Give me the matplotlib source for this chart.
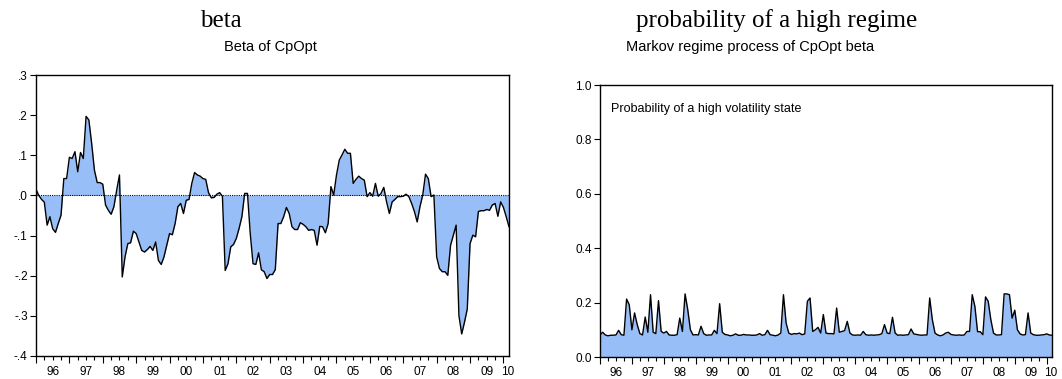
import matplotlib
matplotlib.use("Agg")
import matplotlib.pyplot as plt
import numpy as np

# monthly observations, Jan 1996 .. Mar 2010
beta = [
    .015, .0, -.01, -.017, -.074, -.053, -.083, -.092, -.07, -.049, .042, .042,          # 96
    .095, .092, .109, .059, .107, .092, .197, .188, .13, .063, .032, .032,               # 97
    .028, -.024, -.037, -.047, -.028, .013, .051, -.203, -.153, -.12, -.118, -.089,      # 98
    -.095, -.116, -.137, -.141, -.135, -.127, -.137, -.116, -.162, -.172, -.153, -.124,  # 99
    -.095, -.098, -.07, -.028, -.02, -.045, -.012, -.01, .03, .057, .051, .048,          # 00
    .042, .04, .007, -.006, -.005, .003, .007, -.002, -.187, -.17, -.128, -.122,         # 01
    -.107, -.082, -.053, .005, .005, -.095, -.17, -.172, -.143, -.185, -.19, -.207,      # 02
    -.197, -.197, -.185, -.07, -.07, -.053, -.03, -.045, -.078, -.085, -.085, -.068,     # 03
    -.072, -.078, -.087, -.085, -.087, -.124, -.077, -.078, -.093, -.07, .022, .001,     # 04
    .051, .088, .101, .115, .105, .105, .03, .04, .048, .042, .038, -.003,               # 05
    .007, -.002, .03, -.002, .005, .02, -.016, -.045, -.016, -.01, -.003, -.003,         # 06
    -.002, .003, -.003, -.02, -.04, -.066, -.028, .001, .053, .042, -.003, .001,         # 07
    -.153, -.182, -.19, -.19, -.199, -.124, -.099, -.074, -.299, -.345, -.316, -.283,    # 08
    -.12, -.099, -.103, -.04, -.038, -.038, -.035, -.037, -.024, -.02, -.052, -.016,     # 09
    -.03, -.053, -.078,                                                                  # 10
]

prob_high = [
    .081, .091, .081, .078, .08, .08, .081, .098, .082, .08, .213, .192,
    .10, .162, .119, .086, .081, .147, .091, .229, .091, .086, .207, .094,
    .088, .094, .081, .08, .08, .082, .143, .094, .232, .174, .10, .081,
    .082, .081, .113, .086, .08, .081, .081, .098, .086, .196, .091, .083,
    .081, .078, .08, .085, .08, .08, .083, .081, .081, .08, .08, .081,
    .086, .08, .082, .098, .082, .08, .078, .081, .088, .229, .125, .088,
    .083, .086, .085, .088, .082, .085, .205, .217, .094, .10, .109, .088,
    .156, .088, .086, .086, .085, .18, .091, .094, .097, .131, .088, .081,
    .08, .081, .08, .094, .082, .08, .081, .08, .081, .082, .086, .119,
    .088, .086, .146, .088, .08, .081, .08, .081, .082, .103, .085, .083,
    .081, .08, .081, .081, .217, .137, .088, .081, .078, .081, .088, .091,
    .083, .081, .08, .081, .08, .081, .094, .094, .229, .186, .093, .093,
    .082, .221, .205, .137, .088, .081, .081, .082, .232, .232, .229, .143,
    .172, .10, .085, .081, .082, .162, .088, .082, .08, .08, .081, .082,
    .085, .081, .08,
]

year_labels = ["96", "97", "98", "99", "00", "01", "02", "03", "04", "05",
               "06", "07", "08", "09", "10"]
beta_ticks = [-.4, -.3, -.2, -.1, 0, .1, .2, .3]
beta_ticklabels = ["-.4", "-.3", "-.2", "-.1", ".0", ".1", ".2", ".3"]
prob_ticks = [0, .2, .4, .6, .8, 1.0]
prob_ticklabels = ["0.0", "0.2", "0.4", "0.6", "0.8", "1.0"]

FILL = "#98BEF8"
SANS = "Liberation Sans"
SERIF = "Liberation Serif"
W, H = 1062, 379

plt.rcParams["font.family"] = SANS

fig = plt.figure(figsize=(W / 100, H / 100), dpi=100)


def box(x0, y0, x1, y1):
    return [x0 / W, 1 - y1 / H, (x1 - x0) / W, (y1 - y0) / H]


def style_time_axis(ax, n):
    ax.set_xlim(0, n - 1)
    ax.set_xticks(np.arange(0, n, 12))
    ax.set_xticklabels([])
    ax.set_xticks(np.arange(0, n, 3), minor=True)
    ax.tick_params(axis="x", which="major", direction="out", length=5, width=0.8)
    ax.tick_params(axis="x", which="minor", direction="out", length=3, width=0.8)
    trans = ax.get_xaxis_transform()
    for i, lab in enumerate(year_labels):
        pos = 12 * i + 6
        if pos > n - 1:
            pos = n - 1.5
        ax.text(pos, -0.035, lab, transform=trans, ha="center", va="top", fontsize=8.5)
    ax.tick_params(axis="y", direction="out", length=4, width=0.8, labelsize=8.5, pad=2)
    for s in ax.spines.values():
        s.set_linewidth(1.0)


# left panel: beta
ax1 = fig.add_axes(box(36, 75, 509, 356))
x1 = np.arange(len(beta))
ax1.fill_between(x1, 0, beta, color=FILL, lw=0)
ax1.plot(x1, beta, color="k", lw=1.0)
ax1.axhline(0, color="k", lw=0.8, ls=(0, (1, 1)))
ax1.set_ylim(-0.4, 0.3)
ax1.set_yticks(beta_ticks)
ax1.set_yticklabels(beta_ticklabels)
style_time_axis(ax1, len(beta))

# right panel: regime probability
ax2 = fig.add_axes(box(600, 85, 1052, 357))
x2 = np.arange(len(prob_high))
ax2.fill_between(x2, 0, prob_high, color=FILL, lw=0)
ax2.plot(x2, prob_high, color="k", lw=1.0)
ax2.set_ylim(0, 1.0)
ax2.set_yticks(prob_ticks)
ax2.set_yticklabels(prob_ticklabels)
style_time_axis(ax2, len(prob_high))
ax2.text(0.024, 0.912, "Probability of a high volatility state", transform=ax2.transAxes,
         ha="left", va="center", fontsize=9)

# headings
fig.text(221 / W, 1 - 27 / H, "beta", family=SERIF, fontsize=18, ha="center", va="baseline")
fig.text(777 / W, 1 - 27 / H, "probability of a high regime", family=SERIF, fontsize=18,
         ha="center", va="baseline")
fig.text(270 / W, 1 - 47 / H, "Beta of CpOpt", fontsize=10.5, ha="center", va="center")
fig.text(750 / W, 1 - 47 / H, "Markov regime process of CpOpt beta", fontsize=10.5,
         ha="center", va="center")

fig.savefig("out.png", dpi=100)
